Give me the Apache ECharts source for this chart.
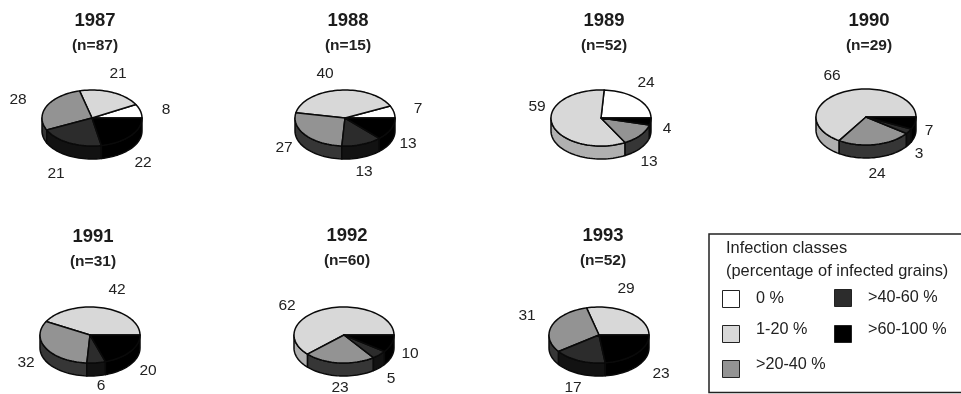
<!DOCTYPE html>
<html>
<head>
<meta charset="utf-8">
<style>html,body{margin:0;padding:0;background:#fff}#chart{width:961px;height:394px}</style>
<script src="https://cdn.jsdelivr.net/npm/echarts@6/dist/echarts.min.js"></script>
</head>
<body>
<div id="chart"></div>
<script>
// Survey years and number of samples per year
const years = ['1987', '1988', '1989', '1990', '1991', '1992', '1993'];
const sampleSizes = [87, 15, 52, 29, 31, 60, 52];

// Share of samples (%) in each infection class, one entry per year
const classNames = ['0 %', '1-20 %', '>20-40 %', '>40-60 %', '>60-100 %'];
const class0 = [8, 7, 24, 0, 0, 0, 0];
const class1to20 = [21, 40, 59, 66, 42, 62, 29];
const class20to40 = [28, 27, 13, 24, 32, 23, 31];
const class40to60 = [21, 13, 0, 3, 6, 5, 17];
const class60to100 = [22, 13, 4, 7, 20, 10, 23];
const classValues = [class0, class1to20, class20to40, class40to60, class60to100];

// Fill of each slice's top face and of its outer wall
const topColors = ['#ffffff', '#d8d8d8', '#939393', '#2c2c2c', '#000000'];
const wallColors = ['#b0b0b0', '#b0b0b0', '#363636', '#121212', '#000000'];

// Where each tilted pie sits: centre of the top face
const pieCentres = [[92, 118], [345, 118], [601, 118], [866, 117], [90, 335], [344, 335], [599, 335]];
const RX = 50, RY = 28, DEPTH = 13;

// Text anchor of each value label, per class and year (null where the class is empty)
const labelSpots = [
  [[166, 110], [418, 109], [646, 83], null, null, null, null],
  [[118, 74], [325, 74], [537, 107], [832, 76], [117, 290], [287, 306], [626, 289]],
  [[18, 100], [284, 148], [649, 162], [877, 174], [26, 363], [340, 388], [527, 316]],
  [[56, 174], [364, 172], null, [919, 154], [101, 386], [391, 379], [573, 388]],
  [[143, 163], [408, 144], [667, 129], [929, 131], [148, 371], [410, 354], [661, 374]]
];
const titleCentres = [[95, 21], [348, 21], [604, 21], [869, 21], [93, 237], [347, 236], [603, 236]];

const ellipsePoint = (c, deg, dy) => {
  const a = deg * Math.PI / 180;
  return [c[0] + RX * Math.cos(a), c[1] - RY * Math.sin(a) + (dy || 0)];
};

function arcPoints(c, from, to, dy) {
  const pts = [];
  const steps = Math.max(1, Math.ceil((to - from) / 3));
  for (let i = 0; i <= steps; i++) pts.push(ellipsePoint(c, from + (to - from) * i / steps, dy));
  return pts;
}

// One custom series per class; each data row draws that class's slice in one year's pie
const makeRenderer = (classIndex) => (params, api) => {
  const yearIndex = api.value(0);
  const value = api.value(1);
  if (!value) return { type: 'group', children: [] };
  let before = 0;
  for (let k = 0; k < classIndex; k++) before += classValues[k][yearIndex];
  const start = before * 3.6;
  const end = (before + value) * 3.6;
  const c = pieCentres[yearIndex];
  const children = [];
  const line = { stroke: '#0a0a0a', lineWidth: 1.5, lineJoin: 'round' };

  const wallFrom = Math.max(start, 180);
  if (end > wallFrom) {
    const pts = arcPoints(c, wallFrom, end, 0).concat(arcPoints(c, wallFrom, end, DEPTH).reverse());
    children.push({ type: 'polygon', shape: { points: pts }, style: Object.assign({ fill: wallColors[classIndex] }, line) });
  }
  children.push({
    type: 'polygon',
    shape: { points: [c].concat(arcPoints(c, start, end, 0)) },
    style: Object.assign({ fill: topColors[classIndex] }, line)
  });
  const spot = labelSpots[classIndex][yearIndex];
  if (spot) {
    children.push({
      type: 'text',
      style: {
        x: spot[0], y: spot[1], text: String(value), fill: '#222',
        font: '15.5px "Liberation Sans", Arial, sans-serif', align: 'center', verticalAlign: 'middle'
      }
    });
  }
  return { type: 'group', children };
};

const series = classNames.map((name, i) => ({
  type: 'custom',
  name,
  coordinateSystem: 'none',
  silent: true,
  animation: false,
  itemStyle: { color: topColors[i] },
  renderItem: makeRenderer(i),
  data: classValues[i].map((v, y) => [y, v])
}));

const titles = years.map((year, i) => ({
  text: year,
  subtext: '(n=' + sampleSizes[i] + ')',
  left: titleCentres[i][0],
  top: titleCentres[i][1] - 10,
  textAlign: 'center',
  padding: 0,
  itemGap: 7,
  textStyle: { fontFamily: 'Liberation Sans', fontSize: 18.5, fontWeight: 'bold', color: '#1c1c1c', lineHeight: 20 },
  subtextStyle: { fontFamily: 'Liberation Sans', fontSize: 15.5, fontWeight: 'bold', color: '#222', lineHeight: 16 }
}));

// A legend block per entry, so each swatch and its text can be set on its own row
const legendFont = { fontFamily: 'Liberation Sans', fontSize: 16.2, color: '#222' };
const legendRow = (i, left, top, lift) => ({
  left,
  top,
  orient: 'vertical',
  itemWidth: 17,
  itemHeight: 17,
  padding: 0,
  selectedMode: false,
  icon: 'rect',
  itemStyle: { borderColor: '#222', borderWidth: 1 },
  data: [classNames[i]],
  formatter: (n) => (lift ? '{t|' + n + '}\n{s| }' : '{t|' + n + '}'),
  textStyle: {
    rich: {
      t: Object.assign({ padding: [0, 0, 0, 11.5], lineHeight: 16 }, legendFont),
      s: { fontSize: 1, lineHeight: lift, height: lift }
    }
  }
});

const option = {
  backgroundColor: '#fff',
  animation: false,
  title: titles,
  legend: [
    legendRow(0, 722, 290, 0),
    legendRow(1, 722, 322, 8),
    legendRow(2, 722, 357, 8),
    legendRow(3, 834, 289, 0),
    legendRow(4, 834, 322, 8)
  ],
  graphic: [
    { type: 'rect', shape: { x: 709, y: 234, width: 270, height: 158.5 }, style: { fill: 'none', stroke: '#222', lineWidth: 1.5 }, silent: true, z: -1 },
    { type: 'text', style: { x: 726, y: 248, text: 'Infection classes', fill: '#222', font: '16.4px "Liberation Sans", Arial, sans-serif', verticalAlign: 'middle' } },
    { type: 'text', style: { x: 726, y: 271, text: '(percentage of infected grains)', fill: '#222', font: '16.4px "Liberation Sans", Arial, sans-serif', verticalAlign: 'middle' } }
  ],
  series
};

echarts.init(document.getElementById('chart'), null, { renderer: 'canvas' }).setOption(option);
</script>
</body>
</html>
